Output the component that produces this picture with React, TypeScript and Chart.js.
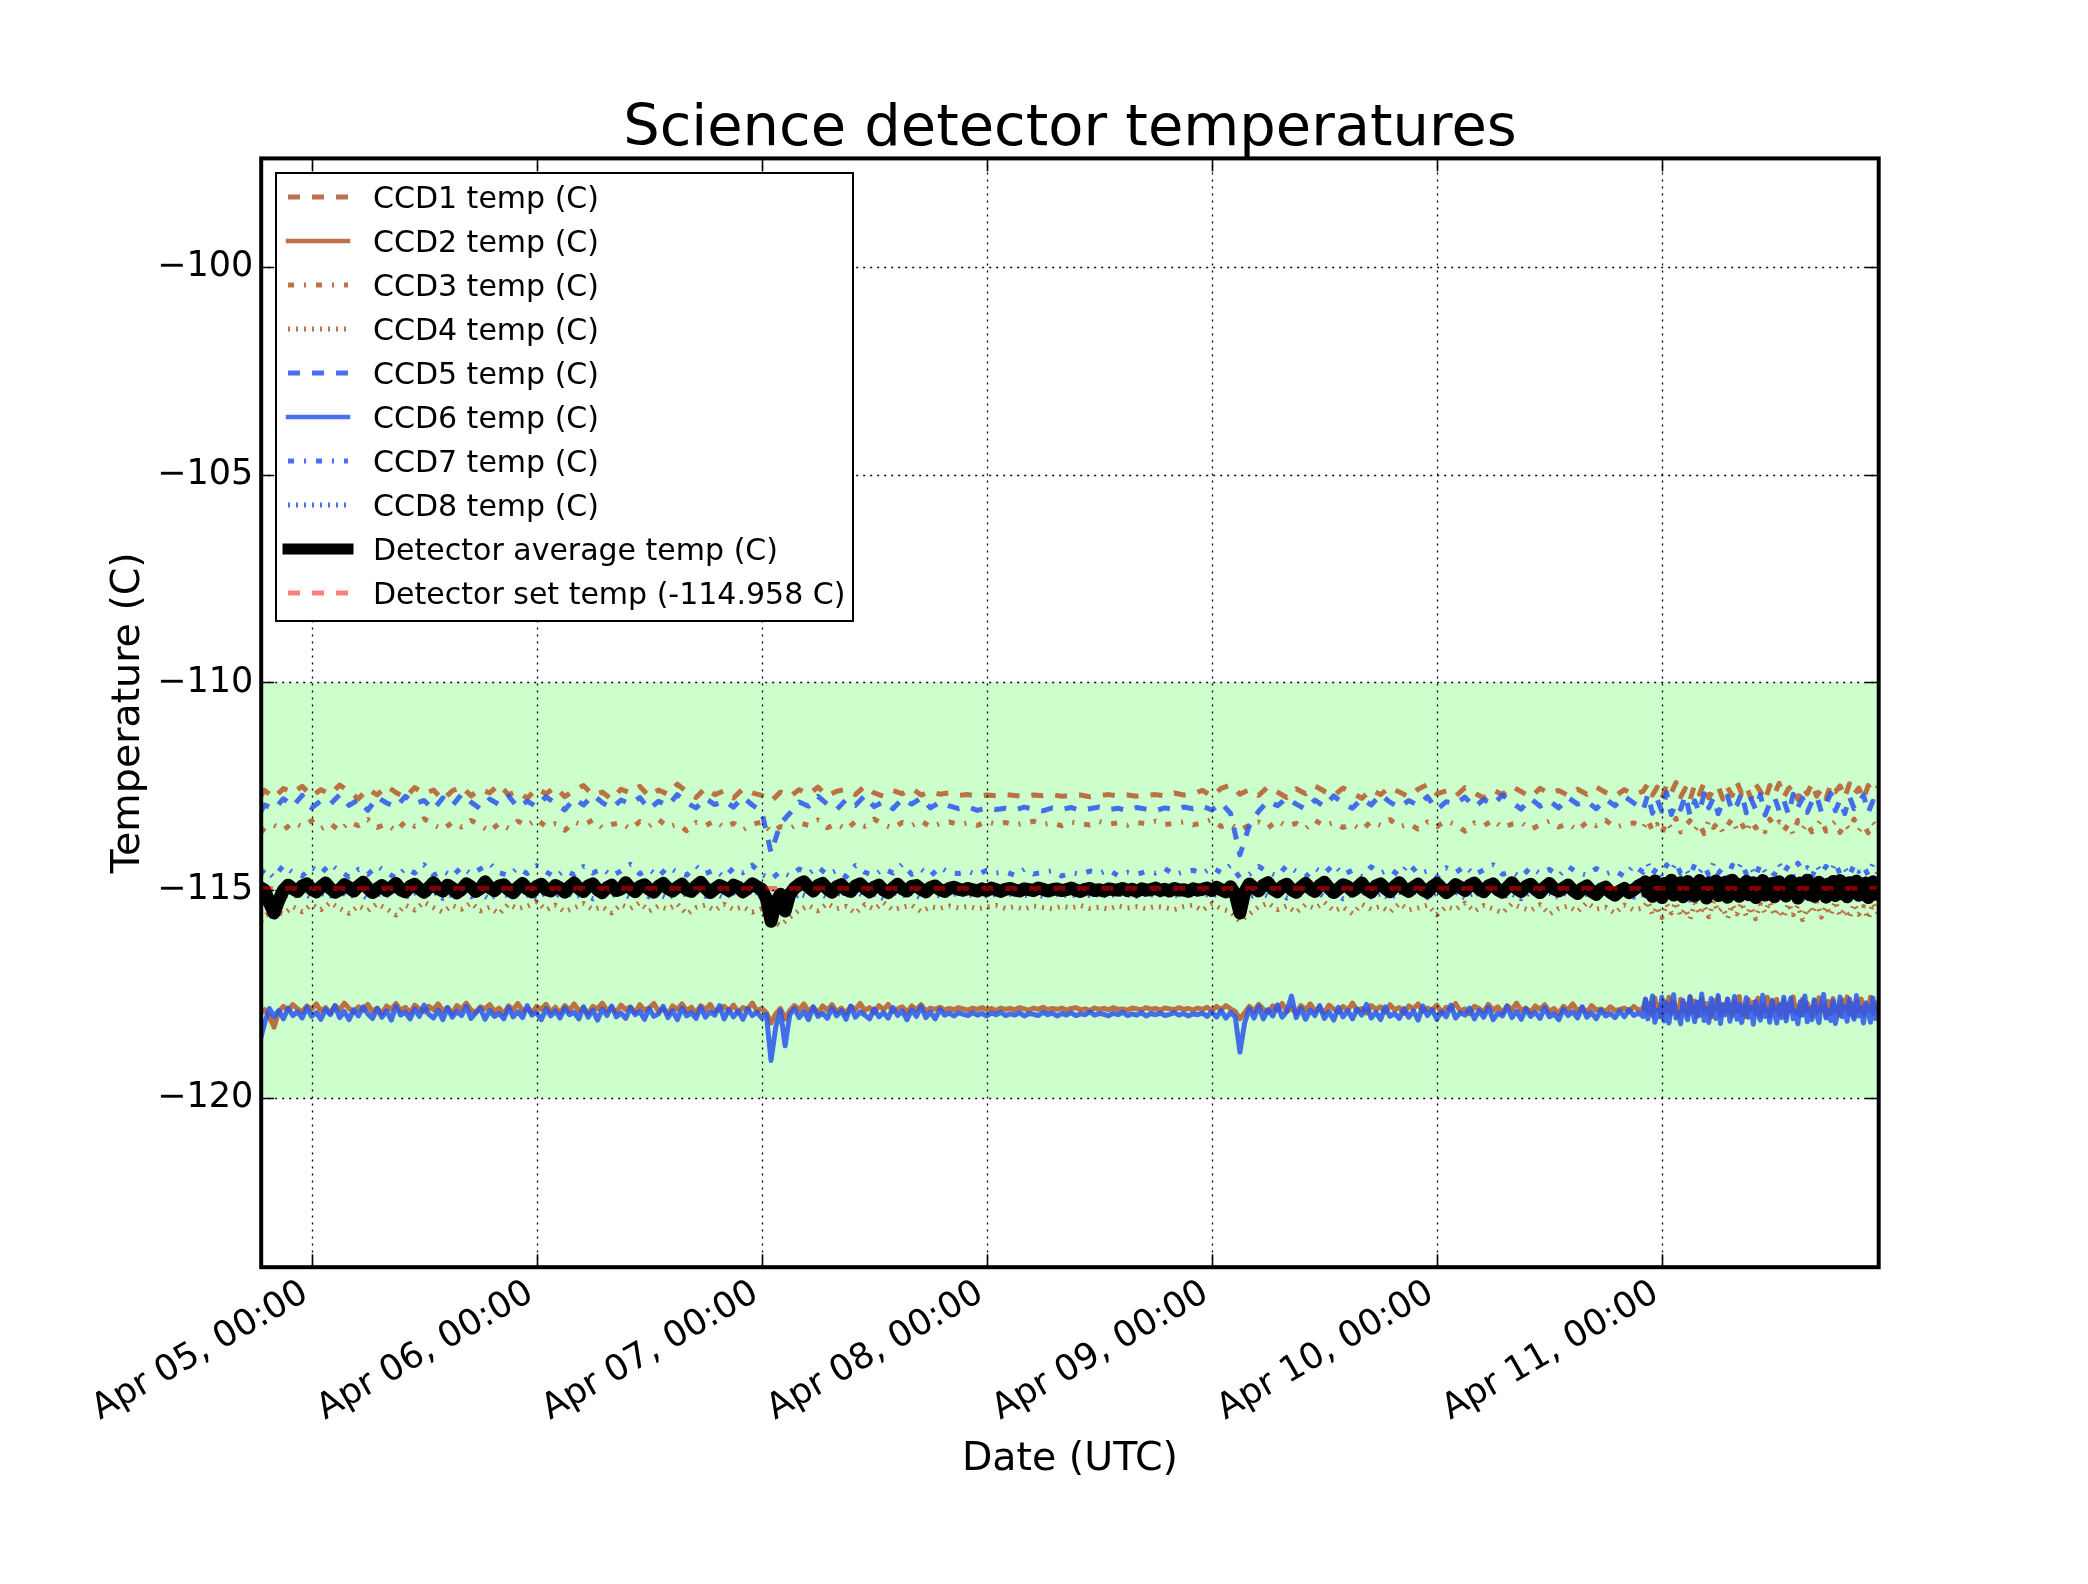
import React, { useEffect, useRef } from "react";
import { Chart, registerables } from "chart.js";

Chart.register(...registerables);

// Sample times (hours after Apr 05, 00:00 UTC) for the hourly channels
const hours = [
  -5.4, -5, -4, -3, -2, -1,
  0, 1, 2, 3, 4, 5, 6, 7, 8, 9, 10, 11, 12, 13, 14, 15, 16, 17, 18, 19, 20, 21, 22, 23,
  24, 25, 26, 27, 28, 29, 30, 31, 32, 33, 34, 35, 36, 37, 38, 39, 40, 41, 42, 43, 44, 45, 46, 47,
  48, 49, 50, 51, 52, 53, 54, 55, 56, 57, 58, 59, 60, 61, 62, 63, 64, 65, 66, 67, 68, 69, 70, 71,
  72, 73, 74, 75, 76, 77, 78, 79, 80, 81, 82, 83, 84, 85, 86, 87, 88, 89, 90, 91, 92, 93, 94, 95,
  96, 97, 98, 99, 100, 101, 102, 103, 104, 105, 106, 107, 108, 109, 110, 111, 112, 113, 114, 115, 116, 117, 118, 119,
  120, 121, 122, 123, 124, 125, 126, 127, 128, 129, 130, 131, 132, 133, 134, 135, 136, 137, 138, 139, 140, 141, 142,
  142.5, 143, 143.5, 144, 144.5, 145, 145.5, 146, 146.5, 147, 147.5, 148, 148.5, 149, 149.5, 150, 150.5, 151, 151.5, 152,
  152.5, 153, 153.5, 154, 154.5, 155, 155.5, 156, 156.5, 157, 157.5, 158, 158.5, 159, 159.5, 160, 160.5, 161, 161.5, 162,
  162.5, 163, 163.5, 164, 164.5, 165, 165.5, 166, 166.5, 167,
];

// Finer sample times for the solid channels and the detector average
const hoursFine = [
  -5.4,
  -5, -4.5, -4, -3.5, -3, -2.5, -2, -1.5, -1, -0.5,
  0, 0.5, 1, 1.5, 2, 2.5, 3, 3.5, 4, 4.5,
  5, 5.5, 6, 6.5, 7, 7.5, 8, 8.5, 9, 9.5,
  10, 10.5, 11, 11.5, 12, 12.5, 13, 13.5, 14, 14.5,
  15, 15.5, 16, 16.5, 17, 17.5, 18, 18.5, 19, 19.5,
  20, 20.5, 21, 21.5, 22, 22.5, 23, 23.5, 24, 24.5,
  25, 25.5, 26, 26.5, 27, 27.5, 28, 28.5, 29, 29.5,
  30, 30.5, 31, 31.5, 32, 32.5, 33, 33.5, 34, 34.5,
  35, 35.5, 36, 36.5, 37, 37.5, 38, 38.5, 39, 39.5,
  40, 40.5, 41, 41.5, 42, 42.5, 43, 43.5, 44, 44.5,
  45, 45.5, 46, 46.5, 47, 47.5, 48, 48.5, 49, 49.5,
  50, 50.5, 51, 51.5, 52, 52.5, 53, 53.5, 54, 54.5,
  55, 55.5, 56, 56.5, 57, 57.5, 58, 58.5, 59, 59.5,
  60, 60.5, 61, 61.5, 62, 62.5, 63, 63.5, 64, 64.5,
  65, 65.5, 66, 66.5, 67, 67.5, 68, 68.5, 69, 69.5,
  70, 70.5, 71, 71.5, 72, 72.5, 73, 73.5, 74, 74.5,
  75, 75.5, 76, 76.5, 77, 77.5, 78, 78.5, 79, 79.5,
  80, 80.5, 81, 81.5, 82, 82.5, 83, 83.5, 84, 84.5,
  85, 85.5, 86, 86.5, 87, 87.5, 88, 88.5, 89, 89.5,
  90, 90.5, 91, 91.5, 92, 92.5, 93, 93.5, 94, 94.5,
  95, 95.5, 96, 96.5, 97, 97.5, 98, 98.5, 99, 99.5,
  100, 100.5, 101, 101.5, 102, 102.5, 103, 103.5, 104, 104.5,
  105, 105.5, 106, 106.5, 107, 107.5, 108, 108.5, 109, 109.5,
  110, 110.5, 111, 111.5, 112, 112.5, 113, 113.5, 114, 114.5,
  115, 115.5, 116, 116.5, 117, 117.5, 118, 118.5, 119, 119.5,
  120, 120.5, 121, 121.5, 122, 122.5, 123, 123.5, 124, 124.5,
  125, 125.5, 126, 126.5, 127, 127.5, 128, 128.5, 129, 129.5,
  130, 130.5, 131, 131.5, 132, 132.5, 133, 133.5, 134, 134.5,
  135, 135.5, 136, 136.5, 137, 137.5, 138, 138.5, 139, 139.5,
  140, 140.5, 141, 141.5, 142,
  142.25, 142.5, 142.75, 143, 143.25, 143.5, 143.75, 144,
  144.25, 144.5, 144.75, 145, 145.25, 145.5, 145.75, 146,
  146.25, 146.5, 146.75, 147, 147.25, 147.5, 147.75, 148,
  148.25, 148.5, 148.75, 149, 149.25, 149.5, 149.75, 150,
  150.25, 150.5, 150.75, 151, 151.25, 151.5, 151.75, 152,
  152.25, 152.5, 152.75, 153, 153.25, 153.5, 153.75, 154,
  154.25, 154.5, 154.75, 155, 155.25, 155.5, 155.75, 156,
  156.25, 156.5, 156.75, 157, 157.25, 157.5, 157.75, 158,
  158.25, 158.5, 158.75, 159, 159.25, 159.5, 159.75, 160,
  160.25, 160.5, 160.75, 161, 161.25, 161.5, 161.75, 162,
  162.25, 162.5, 162.75, 163, 163.25, 163.5, 163.75, 164,
  164.25, 164.5, 164.75, 165, 165.25, 165.5, 165.75, 166,
  166.25, 166.5, 166.75, 167,
];

const xTickHours = [0, 24, 48, 72, 96, 120, 144];
const xTickLabels = [
  "Apr 05, 00:00", "Apr 06, 00:00", "Apr 07, 00:00", "Apr 08, 00:00",
  "Apr 09, 00:00", "Apr 10, 00:00", "Apr 11, 00:00",
];
const yTickValues = [-120, -115, -110, -105, -100];
const yTickLabels = ["\u2212120", "\u2212115", "\u2212110", "\u2212105", "\u2212100"];

const xMin = -5.37;
const xMax = 167.12;
const yMin = -124.08;
const yMax = -97.38;

const setTemp = -114.958;
const okBandLow = -120;
const okBandHigh = -110;

const ccd1 = [
  -112.72, -112.60, -112.78, -112.55, -112.66, -112.50, -112.74, -112.58, -112.69, -112.47,
  -112.62, -112.80, -112.56, -112.71, -112.49, -112.65, -112.77, -112.53, -112.68, -112.59,
  -112.83, -112.61, -112.50, -112.73, -112.57, -112.66, -112.46, -112.70, -112.62, -112.79,
  -112.55, -112.68, -112.52, -112.75, -112.60, -112.48, -112.71, -112.64, -112.81, -112.57,
  -112.66, -112.50, -112.74, -112.59, -112.69, -112.45, -112.63, -112.77, -112.54, -112.70,
  -112.61, -112.78, -112.56, -112.66, -112.72, -112.86, -112.64, -112.75, -112.58, -112.69,
  -112.52, -112.73, -112.62, -112.57, -112.70, -112.49, -112.66, -112.74, -112.60, -112.68,
  -112.55, -112.71, -112.63, -112.69, -112.66, -112.72, -112.70, -112.74, -112.71, -112.73,
  -112.70, -112.72, -112.75, -112.71, -112.73, -112.70, -112.74, -112.72, -112.71, -112.75,
  -112.72, -112.70, -112.73, -112.71, -112.74, -112.72, -112.70, -112.73, -112.66, -112.71,
  -112.68, -112.60, -112.74, -112.55, -112.47, -112.69, -112.58, -112.72, -112.51, -112.64,
  -112.77, -112.56, -112.68, -112.49, -112.62, -112.73, -112.54, -112.66, -112.79, -112.58,
  -112.70, -112.52, -112.64, -112.75, -112.57, -112.46, -112.68, -112.61, -112.74, -112.53,
  -112.66, -112.78, -112.59, -112.70, -112.50, -112.63, -112.76, -112.55, -112.67, -112.60,
  -112.72, -112.57, -112.69, -112.52, -112.65, -112.74, -112.58, -112.70, -112.62,
  -112.44, -112.71, -112.52, -112.80, -112.47, -112.66, -112.41, -112.75, -112.55, -112.83,
  -112.46, -112.69, -112.42, -112.78, -112.58, -112.49, -112.81, -112.53, -112.72, -112.40,
  -112.67, -112.50, -112.79, -112.45, -112.62, -112.84, -112.48, -112.70, -112.43, -112.76,
  -112.56, -112.47, -112.82, -112.51, -112.68, -112.42, -112.74, -112.57, -112.80, -112.46,
  -112.63, -112.49, -112.77, -112.44, -112.70, -112.54, -112.81, -112.48, -112.66, -112.52,
];

const ccd2 = [
  -117.95, -117.88, -118.05, -118.30, -117.92, -117.80, -117.89, -117.76, -117.86, -117.93,
  -117.79, -117.87, -117.74, -117.91, -117.83, -117.96, -117.78, -117.88, -117.72, -117.85,
  -117.94, -117.81, -117.89, -117.75, -117.92, -117.84, -117.97, -117.79, -117.87, -117.73,
  -117.90, -117.82, -117.95, -117.77, -117.86, -117.93, -117.80, -117.88, -117.74, -117.91,
  -117.83, -117.97, -117.78, -117.87, -117.72, -117.89, -117.94, -117.81, -117.86, -117.76,
  -117.92, -117.84, -117.98, -117.79, -117.88, -117.73, -117.90, -117.85, -117.95, -117.80,
  -117.87, -117.75, -117.93, -117.82, -117.96, -117.78, -117.89, -117.74, -117.91, -117.84,
  -117.97, -117.80, -117.86, -117.72, -117.90, -117.83, -117.94, -117.77, -117.88, -117.81,
  -117.95, -117.76, -117.89, -117.84, -117.73, -117.92, -117.86, -117.98, -117.79, -117.87,
  -117.74, -117.91, -117.82, -117.96, -117.78, -117.88, -117.75, -117.93, -117.85, -117.80,
  -117.90, -117.77, -117.94, -117.83, -117.87, -117.72, -117.91, -117.85, -117.95, -118.20,
  -117.98, -117.85, -118.10, -117.90, -117.78, -117.88, -117.74, -117.92, -117.82, -117.96,
  -117.79, -117.89, -117.76, -117.93, -117.84, -117.97, -117.80, -117.87, -117.73, -117.90,
  -117.83, -117.95, -117.78, -117.88, -117.75, -117.92, -117.86, -117.81, -117.94, -117.79,
  -117.88, -117.76, -117.91, -117.84, -117.87, -117.82, -117.89, -117.85, -117.88, -117.83,
  -117.86, -117.89, -117.84, -117.87, -117.83, -117.88, -117.85, -117.90, -117.84, -117.87,
  -117.85, -117.88, -117.83, -117.86, -117.89, -117.84, -117.87, -117.82, -117.88, -117.85,
  -117.87, -117.84, -117.89, -117.85, -117.83, -117.88, -117.86, -117.90, -117.84, -117.87,
  -117.85, -117.88, -117.83, -117.87, -117.86, -117.89, -117.84, -117.86, -117.88, -117.83,
  -117.87, -117.85, -117.89, -117.84, -117.86, -117.88, -117.83, -117.87, -117.85, -117.89,
  -117.84, -117.87, -117.82, -117.90, -117.80, -117.88, -117.78, -117.86, -117.92, -118.10,
  -117.95, -117.80, -117.91, -117.75, -117.87, -117.94, -117.79, -117.89, -117.73, -117.92,
  -117.84, -117.97, -117.78, -117.88, -117.74, -117.91, -117.83, -117.95, -117.77, -117.86,
  -117.93, -117.80, -117.89, -117.72, -117.90, -117.85, -117.96, -117.78, -117.87, -117.81,
  -117.94, -117.76, -117.88, -117.83, -117.97, -117.79, -117.86, -117.74, -117.92, -117.84,
  -117.89, -117.77, -117.95, -117.82, -117.87, -117.73, -117.91, -117.86, -117.98, -117.80,
  -117.85, -117.93, -117.75, -117.89, -117.81, -117.96, -117.78, -117.88, -117.72, -117.90,
  -117.84, -117.94, -117.79, -117.87, -117.76, -117.92, -117.85, -117.97, -117.80, -117.88,
  -117.74, -117.91, -117.83, -117.95, -117.78, -117.89, -117.86, -117.93, -117.81, -117.90,
  -117.87, -117.84, -117.92, -117.80, -117.89, -117.85,
  -117.65, -117.95, -117.72, -118.02, -117.60, -117.88, -117.76, -118.05, -117.68, -117.92,
  -117.58, -117.98, -117.70, -117.84, -118.03, -117.63, -117.90, -117.74, -118.00, -117.57,
  -117.93, -117.67, -118.04, -117.79, -117.61, -117.96, -117.73, -117.89, -118.06, -117.66,
  -117.85, -117.59, -118.01, -117.75, -117.94, -117.62, -117.87, -118.03, -117.69, -117.91,
  -117.56, -117.99, -117.78, -118.05, -117.64, -117.86, -117.71, -117.97, -117.60, -118.02,
  -117.77, -117.92, -117.58, -118.04, -117.70, -117.88, -117.63, -117.99, -117.81, -117.67,
  -118.06, -117.74, -117.90, -117.57, -117.96, -117.79, -118.01, -117.62, -117.93, -117.72,
  -117.86, -118.03, -117.66, -117.94, -117.59, -117.89, -117.76, -118.05, -117.68, -117.97,
  -117.61, -117.91, -117.80, -118.02, -117.65, -117.87, -117.57, -117.98, -117.73, -118.04,
  -117.69, -117.93, -117.62, -118.00, -117.78, -117.90, -117.58, -117.96, -117.71, -117.88,
];

const ccd3 = [
  -113.62, -113.50, -113.44, -113.55, -113.38, -113.47, -113.33, -113.52, -113.40, -113.57,
  -113.36, -113.45, -113.30, -113.49, -113.41, -113.58, -113.35, -113.46, -113.28, -113.43,
  -113.54, -113.37, -113.48, -113.32, -113.44, -113.59, -113.39, -113.51, -113.34, -113.45,
  -113.29, -113.47, -113.40, -113.56, -113.36, -113.44, -113.31, -113.50, -113.42, -113.38,
  -113.53, -113.35, -113.46, -113.30, -113.48, -113.41, -113.57, -113.37, -113.45, -113.33,
  -113.49, -113.39, -113.55, -113.42, -113.36, -113.60, -113.47, -113.52, -113.38, -113.44,
  -113.31, -113.50, -113.40, -113.54, -113.35, -113.46, -113.29, -113.43, -113.51, -113.37,
  -113.45, -113.33, -113.48, -113.40, -113.36, -113.42, -113.38, -113.44, -113.35, -113.41,
  -113.37, -113.43, -113.39, -113.34, -113.42, -113.38, -113.45, -113.36, -113.40, -113.43,
  -113.35, -113.41, -113.38, -113.44, -113.37, -113.40, -113.34, -113.42, -113.39, -113.36,
  -113.43, -113.38, -113.30, -113.47, -113.41, -113.55, -113.44, -113.36, -113.50, -113.33,
  -113.46, -113.39, -113.52, -113.32, -113.45, -113.37, -113.49, -113.42, -113.55, -113.35,
  -113.44, -113.30, -113.48, -113.40, -113.53, -113.36, -113.47, -113.33, -113.42, -113.58,
  -113.38, -113.45, -113.31, -113.50, -113.41, -113.37, -113.54, -113.43, -113.34, -113.48,
  -113.40, -113.56, -113.36, -113.45, -113.32, -113.49, -113.42, -113.38, -113.51,
  -113.30, -113.58, -113.42, -113.63, -113.35, -113.52, -113.27, -113.60, -113.45, -113.33,
  -113.56, -113.40, -113.64, -113.31, -113.49, -113.37, -113.61, -113.44, -113.28, -113.55,
  -113.39, -113.62, -113.34, -113.50, -113.43, -113.59, -113.29, -113.47, -113.36, -113.57,
  -113.41, -113.65, -113.32, -113.53, -113.38, -113.60, -113.46, -113.30, -113.58, -113.44,
  -113.35, -113.61, -113.40, -113.54, -113.29, -113.57, -113.43, -113.62, -113.37, -113.50,
];

const ccd4 = [
  -115.75, -115.62, -115.50, -115.58, -115.40, -115.52, -115.35, -115.47, -115.30, -115.44,
  -115.56, -115.38, -115.49, -115.33, -115.45, -115.60, -115.36, -115.48, -115.29, -115.42,
  -115.53, -115.37, -115.46, -115.31, -115.50, -115.41, -115.57, -115.34, -115.45, -115.39,
  -115.28, -115.48, -115.36, -115.52, -115.43, -115.32, -115.47, -115.40, -115.55, -115.35,
  -115.44, -115.30, -115.51, -115.38, -115.46, -115.33, -115.58, -115.42, -115.36, -115.49,
  -115.34, -115.47, -115.40, -115.53, -115.45, -115.72, -115.85, -115.66, -115.48, -115.37,
  -115.50, -115.32, -115.45, -115.39, -115.56, -115.35, -115.46, -115.30, -115.48, -115.41,
  -115.36, -115.52, -115.40, -115.44, -115.38, -115.43, -115.39, -115.45, -115.41, -115.37,
  -115.44, -115.40, -115.46, -115.38, -115.42, -115.45, -115.39, -115.43, -115.37, -115.44,
  -115.41, -115.46, -115.38, -115.43, -115.40, -115.45, -115.39, -115.42, -115.47, -115.40,
  -115.36, -115.49, -115.33, -115.45, -115.52, -115.75, -115.58, -115.40, -115.31, -115.47,
  -115.38, -115.54, -115.35, -115.44, -115.29, -115.50, -115.41, -115.57, -115.34, -115.46,
  -115.39, -115.53, -115.32, -115.48, -115.43, -115.36, -115.59, -115.40, -115.47, -115.31,
  -115.51, -115.37, -115.45, -115.55, -115.33, -115.42, -115.49, -115.35, -115.58, -115.44,
  -115.38, -115.52, -115.30, -115.46, -115.41, -115.56, -115.36, -115.48, -115.43,
  -115.27, -115.60, -115.40, -115.66, -115.33, -115.55, -115.29, -115.62, -115.45, -115.70,
  -115.31, -115.58, -115.38, -115.64, -115.26, -115.52, -115.43, -115.68, -115.35, -115.57,
  -115.30, -115.63, -115.41, -115.69, -115.34, -115.54, -115.28, -115.61, -115.47, -115.66,
  -115.32, -115.59, -115.37, -115.71, -115.44, -115.56, -115.29, -115.65, -115.39, -115.60,
  -115.27, -115.62, -115.46, -115.67, -115.33, -115.58, -115.40, -115.69, -115.31, -115.55,
];

const ccd5 = [
  -113.10, -112.95, -113.05, -112.80, -112.98, -112.72, -113.02, -112.85, -112.93, -112.70,
  -112.96, -112.82, -113.08, -112.76, -112.90, -113.00, -112.74, -112.92, -112.84, -113.06,
  -112.78, -112.97, -112.69, -112.88, -113.04, -112.81, -112.94, -112.73, -113.01, -112.86,
  -112.99, -112.75, -112.91, -113.07, -112.80, -112.95, -112.71, -112.89, -113.03, -112.83,
  -112.92, -112.77, -113.05, -112.86, -112.97, -112.70, -112.90, -113.02, -112.79, -112.94,
  -112.85, -113.00, -112.76, -112.95, -113.10, -114.10, -113.40, -113.15, -112.88, -112.98,
  -112.74, -112.93, -113.06, -112.82, -112.96, -112.72, -112.99, -112.87, -113.04, -112.80,
  -112.93, -112.78, -113.02, -112.88, -112.97, -113.04, -113.00, -113.08, -113.02, -113.06,
  -113.03, -113.07, -113.00, -113.05, -113.09, -113.02, -113.06, -113.01, -113.08, -113.04,
  -113.00, -113.06, -113.03, -113.08, -113.01, -113.05, -113.09, -113.02, -113.06, -113.00,
  -113.04, -112.98, -113.07, -112.90, -113.15, -114.15, -113.45, -113.10, -112.85, -112.97,
  -112.78, -112.93, -113.05, -112.83, -112.99, -112.73, -112.91, -113.03, -112.80, -112.95,
  -112.70, -112.88, -113.01, -112.84, -112.96, -112.75, -113.06, -112.87, -112.92, -112.76,
  -113.00, -112.82, -112.94, -112.71, -112.89, -113.05, -112.79, -112.98, -112.85, -113.02,
  -112.77, -112.93, -112.86, -113.04, -112.81, -112.97, -112.74, -112.90, -113.08,
  -112.70, -113.15, -112.82, -113.10, -112.65, -113.18, -112.90, -113.05, -112.72, -113.20,
  -112.85, -113.12, -112.68, -113.02, -112.78, -113.16, -112.88, -112.74, -113.10, -112.95,
  -112.66, -113.14, -112.80, -113.06, -112.70, -113.19, -112.92, -112.76, -113.08, -112.84,
  -113.17, -112.69, -113.00, -112.79, -113.13, -112.87, -112.73, -113.11, -112.94, -112.67,
  -113.09, -112.83, -113.16, -112.75, -113.04, -112.90, -112.71, -113.13, -112.86, -113.01,
];

const ccd6 = [
  -118.55, -118.20, -117.85, -118.05, -117.90, -118.10, -117.84, -118.02, -117.93, -118.08,
  -117.82, -118.04, -117.95, -118.11, -117.87, -118.00, -117.79, -118.07, -117.92, -118.12,
  -117.88, -118.03, -117.81, -117.98, -118.09, -117.85, -118.06, -117.91, -118.13, -117.80,
  -118.01, -117.94, -118.10, -117.86, -118.04, -117.77, -117.99, -118.08, -117.89, -118.12,
  -117.83, -118.06, -117.92, -118.02, -117.80, -118.09, -117.96, -117.85, -118.11, -117.90,
  -118.04, -117.97, -118.10, -117.82, -118.05, -117.93, -118.07, -117.78, -118.01, -117.95,
  -118.12, -117.86, -118.03, -117.91, -118.08, -117.84, -118.00, -117.94, -118.10, -117.81,
  -118.06, -117.89, -118.13, -117.87, -118.02, -117.79, -118.05, -117.96, -118.09, -117.83,
  -118.00, -117.92, -118.11, -117.85, -118.04, -117.98, -117.80, -118.07, -117.90, -118.12,
  -117.84, -118.03, -117.95, -118.09, -117.82, -118.06, -117.93, -118.01, -117.78, -118.10,
  -117.88, -118.05, -117.91, -118.11, -117.86, -118.02, -117.94, -118.08, -118.00, -119.10,
  -118.30, -117.90, -118.75, -118.00, -117.85, -118.07, -117.92, -118.12, -117.81, -118.04,
  -117.96, -118.09, -117.84, -118.03, -117.90, -118.11, -117.79, -118.06, -117.93, -118.01,
  -118.10, -117.86, -118.05, -117.95, -118.08, -117.83, -118.02, -117.91, -118.12, -117.88,
  -118.04, -117.80, -118.07, -117.94, -118.10, -117.87, -118.01, -117.96, -118.03, -117.95,
  -117.99, -118.02, -117.95, -118.01, -117.97, -118.03, -117.96, -118.00, -117.94, -118.02,
  -117.98, -118.01, -117.95, -118.03, -117.97, -117.99, -118.02, -117.94, -118.00, -117.96,
  -118.03, -117.97, -118.01, -117.95, -118.02, -117.98, -118.00, -117.93, -118.01, -117.97,
  -117.99, -118.03, -117.96, -118.00, -117.94, -118.02, -117.98, -118.01, -117.95, -118.03,
  -117.97, -118.00, -117.96, -118.02, -117.99, -117.95, -118.01, -117.97, -118.03, -117.98,
  -118.00, -117.96, -118.04, -117.93, -118.06, -117.90, -118.08, -117.95, -118.05, -118.90,
  -118.20, -117.85, -118.08, -117.80, -118.10, -117.88, -118.03, -117.76, -118.06, -117.92,
  -117.55, -118.07, -117.84, -118.11, -117.89, -118.02, -117.78, -118.09, -117.93, -118.13,
  -117.82, -118.05, -117.90, -118.10, -117.86, -118.01, -117.75, -118.08, -117.94, -118.12,
  -117.81, -118.04, -117.97, -118.09, -117.85, -118.06, -117.91, -118.13, -117.79, -118.02,
  -117.88, -118.11, -117.93, -118.05, -117.77, -118.08, -117.95, -118.01, -117.84, -118.10,
  -117.90, -118.06, -117.82, -118.12, -117.96, -118.03, -117.80, -118.07, -117.92, -118.11,
  -117.86, -118.04, -117.94, -118.09, -117.83, -118.05, -117.98, -118.12, -117.87, -118.02,
  -117.93, -118.08, -117.81, -118.06, -117.95, -118.10, -117.89, -118.03, -117.97, -118.07,
  -117.91, -118.05, -117.88, -118.02, -117.96, -118.04,
  -117.62, -118.10, -117.85, -117.55, -118.18, -117.90, -118.05, -117.58, -118.15, -117.72,
  -118.20, -117.80, -117.52, -118.08, -117.95, -118.22, -117.66, -117.98, -118.12, -117.57,
  -117.88, -118.17, -117.70, -118.02, -117.50, -118.14, -117.84, -118.19, -117.61, -117.93,
  -118.09, -117.54, -118.21, -117.77, -118.00, -117.63, -118.16, -117.86, -117.56, -118.11,
  -117.74, -118.19, -117.92, -117.59, -118.06, -117.82, -118.23, -117.68, -117.97, -118.13,
  -117.53, -118.04, -117.87, -118.18, -117.65, -117.96, -118.20, -117.76, -118.07, -117.58,
  -118.15, -117.81, -117.60, -118.10, -117.91, -118.22, -117.69, -118.01, -117.55, -118.17,
  -117.85, -118.12, -117.64, -117.99, -118.19, -117.73, -117.51, -118.08, -117.89, -118.14,
  -117.67, -118.21, -117.94, -117.57, -118.05, -117.80, -118.16, -117.62, -117.98, -118.11,
  -117.54, -118.03, -117.83, -118.20, -117.71, -117.95, -118.18, -117.60, -118.09, -117.86,
];

const ccd7 = [
  -114.62, -114.48, -114.70, -114.40, -114.58, -114.66, -114.45, -114.60, -114.37, -114.55,
  -114.68, -114.50, -114.62, -114.42, -114.57, -114.71, -114.47, -114.59, -114.39, -114.64,
  -114.53, -114.67, -114.44, -114.61, -114.49, -114.36, -114.58, -114.65, -114.46, -114.60,
  -114.41, -114.56, -114.69, -114.52, -114.63, -114.43, -114.59, -114.48, -114.66, -114.54,
  -114.38, -114.61, -114.50, -114.67, -114.45, -114.57, -114.64, -114.42, -114.60, -114.51,
  -114.69, -114.47, -114.58, -114.40, -114.62, -114.74, -114.55, -114.66, -114.49, -114.60,
  -114.44, -114.63, -114.52, -114.68, -114.41, -114.57, -114.65, -114.48, -114.59, -114.37,
  -114.62, -114.50, -114.66, -114.45, -114.58, -114.60, -114.55, -114.63, -114.52, -114.59,
  -114.56, -114.64, -114.50, -114.61, -114.57, -114.53, -114.66, -114.58, -114.62, -114.54,
  -114.60, -114.51, -114.65, -114.57, -114.62, -114.55, -114.59, -114.48, -114.63, -114.56,
  -114.52, -114.60, -114.45, -114.58, -114.40, -114.70, -114.62, -114.43, -114.57, -114.66,
  -114.41, -114.55, -114.68, -114.47, -114.60, -114.38, -114.63, -114.52, -114.67, -114.44,
  -114.59, -114.49, -114.65, -114.36, -114.61, -114.54, -114.70, -114.46, -114.58, -114.42,
  -114.64, -114.51, -114.39, -114.62, -114.56, -114.69, -114.45, -114.60, -114.50, -114.66,
  -114.43, -114.58, -114.64, -114.48, -114.61, -114.53, -114.67, -114.40, -114.57,
  -114.36, -114.62, -114.45, -114.68, -114.39, -114.55, -114.33, -114.60, -114.48, -114.66,
  -114.38, -114.57, -114.42, -114.64, -114.35, -114.59, -114.47, -114.70, -114.40, -114.53,
  -114.34, -114.61, -114.44, -114.67, -114.37, -114.56, -114.49, -114.63, -114.36, -114.58,
  -114.41, -114.65, -114.35, -114.54, -114.46, -114.69, -114.39, -114.60, -114.43, -114.57,
  -114.33, -114.62, -114.47, -114.66, -114.38, -114.55, -114.42, -114.64, -114.36, -114.59,
];

const ccd8 = [
  -115.35, -115.20, -115.28, -115.10, -115.16, -115.05, -115.19, -115.08, -115.14, -115.02,
  -115.17, -115.06, -115.21, -115.09, -115.13, -115.00, -115.18, -115.07, -115.15, -115.04,
  -115.20, -115.11, -115.03, -115.16, -115.08, -115.22, -115.05, -115.14, -115.01, -115.12,
  -115.19, -115.06, -115.15, -115.02, -115.17, -115.09, -115.21, -115.04, -115.13, -115.07,
  -115.18, -115.03, -115.16, -115.10, -115.20, -115.05, -115.12, -115.00, -115.15, -115.08,
  -115.19, -115.06, -115.14, -115.02, -115.11, -115.45, -115.20, -115.30, -115.09, -115.16,
  -115.04, -115.18, -115.07, -115.13, -115.01, -115.17, -115.10, -115.21, -115.05, -115.14,
  -115.08, -115.19, -115.03, -115.15, -115.11, -115.09, -115.13, -115.10, -115.14, -115.11,
  -115.12, -115.09, -115.13, -115.11, -115.15, -115.10, -115.12, -115.14, -115.09, -115.13,
  -115.11, -115.14, -115.10, -115.12, -115.15, -115.09, -115.13, -115.11, -115.14, -115.10,
  -115.12, -115.07, -115.16, -115.04, -115.14, -115.40, -115.18, -115.06, -115.15, -115.02,
  -115.19, -115.08, -115.13, -115.00, -115.17, -115.06, -115.21, -115.10, -115.03, -115.16,
  -115.09, -115.20, -115.05, -115.14, -115.01, -115.18, -115.07, -115.12, -115.04, -115.19,
  -115.06, -115.15, -115.02, -115.17, -115.10, -115.21, -115.05, -115.13, -115.08, -115.18,
  -115.03, -115.16, -115.09, -115.20, -115.06, -115.14, -115.01, -115.17, -115.11,
  -114.98, -115.22, -115.05, -115.25, -115.00, -115.18, -114.95, -115.20, -115.07, -115.24,
  -115.02, -115.19, -114.96, -115.23, -115.08, -115.15, -114.99, -115.21, -115.04, -115.26,
  -115.01, -115.17, -114.97, -115.22, -115.06, -115.19, -115.00, -115.24, -115.03, -115.16,
  -114.94, -115.21, -115.08, -115.25, -115.02, -115.18, -114.98, -115.23, -115.05, -115.20,
  -115.00, -115.24, -114.96, -115.19, -115.07, -115.22, -115.01, -115.17, -114.97, -115.21,
];

const detectorAvg = [
  -114.95, -115.00, -115.30, -115.55, -115.25, -115.00, -114.88, -114.97, -115.03, -114.90,
  -114.85, -114.98, -115.04, -114.92, -114.83, -114.96, -115.05, -114.99, -114.87, -114.94,
  -115.02, -114.90, -114.81, -114.95, -115.06, -114.97, -114.89, -115.01, -114.93, -114.84,
  -114.99, -115.04, -114.91, -114.86, -114.97, -115.05, -114.94, -114.82, -114.96, -115.02,
  -114.88, -114.95, -115.07, -114.98, -114.85, -114.92, -115.03, -114.96, -114.80, -114.94,
  -115.01, -114.90, -114.87, -114.99, -115.06, -114.93, -114.84, -114.97, -115.04, -114.91,
  -114.86, -114.98, -115.02, -114.89, -114.95, -115.05, -114.92, -114.83, -114.96, -115.03,
  -114.90, -114.85, -114.99, -115.06, -114.94, -114.88, -115.01, -114.97, -114.82, -114.95,
  -115.04, -114.92, -114.87, -114.98, -115.05, -114.91, -114.84, -114.96, -115.02, -114.93,
  -114.86, -114.99, -115.03, -114.90, -114.81, -114.95, -115.06, -114.97, -114.89, -114.94,
  -115.01, -114.88, -114.93, -115.04, -114.96, -114.85, -114.92, -114.98, -115.20, -115.75,
  -115.30, -115.10, -115.50, -115.10, -114.95, -114.86, -114.80, -114.93, -115.02, -114.89,
  -114.84, -114.97, -115.05, -114.92, -114.87, -114.99, -115.03, -114.90, -114.85, -114.96,
  -115.04, -114.93, -114.88, -115.00, -115.06, -114.95, -114.86, -114.97, -115.02, -114.91,
  -114.89, -114.98, -115.04, -114.94, -114.90, -114.99, -115.03, -114.96, -114.93, -114.98,
  -115.00, -114.96, -114.99, -115.02, -114.97, -115.01, -114.95, -114.99, -115.03, -114.98,
  -114.96, -115.00, -115.02, -114.97, -114.99, -115.01, -114.95, -114.98, -115.02, -114.99,
  -114.97, -115.01, -114.99, -114.95, -115.00, -115.03, -114.98, -114.96, -115.01, -114.99,
  -115.02, -114.97, -114.99, -115.00, -114.96, -115.01, -114.98, -115.03, -114.97, -115.00,
  -114.99, -114.95, -115.01, -114.98, -115.02, -114.96, -115.00, -114.99, -115.03, -114.97,
  -115.00, -114.98, -114.95, -115.01, -114.93, -114.99, -115.04, -114.92, -115.10, -115.55,
  -115.05, -114.85, -114.95, -115.02, -114.88, -114.82, -114.97, -115.04, -114.91, -114.86,
  -114.99, -115.05, -114.93, -114.84, -114.96, -115.03, -114.89, -114.81, -114.95, -115.06,
  -114.97, -114.87, -114.92, -115.02, -114.94, -114.83, -114.98, -115.05, -114.90, -114.85,
  -114.96, -115.04, -114.91, -114.82, -114.97, -115.03, -114.93, -114.86, -114.99, -115.05,
  -114.92, -114.84, -114.95, -115.06, -114.98, -114.87, -114.93, -115.01, -114.89, -114.83,
  -114.97, -115.04, -114.90, -114.85, -114.99, -115.05, -114.94, -114.82, -114.96, -115.03,
  -114.91, -114.86, -114.98, -115.06, -114.93, -114.84, -114.97, -115.02, -114.95, -114.88,
  -115.00, -115.08, -114.96, -114.90, -115.03, -115.10, -114.98, -114.93, -115.05, -115.12,
  -115.02, -114.96, -115.06, -114.99, -114.90, -114.84,
  -114.80, -115.05, -114.92, -115.15, -114.78, -115.02, -114.88, -115.18, -114.84, -115.08,
  -114.95, -114.76, -115.12, -114.90, -115.04, -114.82, -115.16, -114.93, -114.79, -115.10,
  -114.86, -115.14, -114.97, -114.77, -115.06, -114.89, -115.19, -114.83, -115.01, -114.92,
  -114.78, -115.13, -114.87, -115.07, -114.81, -115.17, -114.94, -114.76, -115.09, -114.85,
  -115.15, -114.91, -115.03, -114.79, -115.11, -114.88, -114.82, -115.18, -114.96, -115.05,
  -114.77, -115.12, -114.90, -115.00, -114.84, -115.16, -114.93, -114.80, -115.08, -114.87,
  -115.14, -114.98, -114.78, -115.06, -114.89, -115.19, -114.83, -115.02, -114.92, -114.76,
  -115.11, -114.86, -115.15, -114.95, -114.81, -115.07, -114.90, -115.17, -114.85, -115.03,
  -114.79, -115.13, -114.94, -114.77, -115.09, -114.88, -115.16, -114.82, -115.04, -114.91,
  -114.78, -115.12, -114.87, -115.06, -114.83, -115.18, -114.95, -114.80, -115.10, -114.89,
];

const setTempHours = [xMin, xMax];
const setTempValues = [setTemp, setTemp];

const FONT = "'DejaVu Sans', 'Liberation Sans', sans-serif";
const BROWN = "rgba(182, 88, 42, 0.85)";
const BLUE = "rgba(42, 85, 238, 0.85)";
const DASHED = [12, 12];
const DASHDOT = [6, 10, 2, 10];
const DOTTED = [2, 6];

type Series = {
  label: string;
  xs: number[];
  ys: number[];
  color: string;
  dash: number[];
  width: number;
  legendWidth: number;
  cap: CanvasLineCap;
};

const series: Series[] = [
  { label: "CCD1 temp (C)", xs: hours, ys: ccd1, color: BROWN, dash: DASHED, width: 5, legendWidth: 5, cap: "butt" },
  { label: "CCD2 temp (C)", xs: hoursFine, ys: ccd2, color: BROWN, dash: [], width: 5, legendWidth: 4.5, cap: "square" },
  { label: "CCD3 temp (C)", xs: hours, ys: ccd3, color: BROWN, dash: DASHDOT, width: 5, legendWidth: 5, cap: "butt" },
  { label: "CCD4 temp (C)", xs: hours, ys: ccd4, color: BROWN, dash: DOTTED, width: 5, legendWidth: 5, cap: "butt" },
  { label: "CCD5 temp (C)", xs: hours, ys: ccd5, color: BLUE, dash: DASHED, width: 5, legendWidth: 5, cap: "butt" },
  { label: "CCD6 temp (C)", xs: hoursFine, ys: ccd6, color: BLUE, dash: [], width: 5, legendWidth: 4.5, cap: "square" },
  { label: "CCD7 temp (C)", xs: hours, ys: ccd7, color: BLUE, dash: DASHDOT, width: 5, legendWidth: 5, cap: "butt" },
  { label: "CCD8 temp (C)", xs: hours, ys: ccd8, color: BLUE, dash: DOTTED, width: 5, legendWidth: 5, cap: "butt" },
  { label: "Detector average temp (C)", xs: hoursFine, ys: detectorAvg, color: "#000000", dash: [], width: 13, legendWidth: 11, cap: "square" },
  { label: "Detector set temp (-114.958 C)", xs: setTempHours, ys: setTempValues, color: "rgba(255, 0, 0, 0.5)", dash: DASHED, width: 5, legendWidth: 5, cap: "butt" },
];

const decorPlugin = {
  id: "decor",
  beforeDatasetsDraw(chart: any) {
    const { ctx, chartArea: a, scales } = chart;
    const y = scales.y;
    const yt = y.getPixelForValue(okBandHigh);
    const yb = y.getPixelForValue(okBandLow);
    ctx.save();
    ctx.fillStyle = "#ccffcc";
    ctx.fillRect(a.left, yt, a.right - a.left, yb - yt);
    ctx.restore();
  },
  afterDatasetsDraw(chart: any) {
    const { ctx, chartArea: a, scales } = chart;
    const x = scales.x;
    const y = scales.y;
    ctx.save();
    // dotted grid
    ctx.strokeStyle = "#000";
    ctx.lineWidth = 1.3;
    ctx.setLineDash([2, 5]);
    for (const v of xTickHours) {
      const px = Math.round(x.getPixelForValue(v)) + 0.5;
      ctx.beginPath();
      ctx.moveTo(px, a.top);
      ctx.lineTo(px, a.bottom);
      ctx.stroke();
    }
    for (const v of yTickValues) {
      const py = Math.round(y.getPixelForValue(v)) + 0.5;
      ctx.beginPath();
      ctx.moveTo(a.left, py);
      ctx.lineTo(a.right, py);
      ctx.stroke();
    }
    ctx.setLineDash([]);
    // inward ticks on all four sides
    ctx.lineWidth = 1.6;
    const tl = 13;
    for (const v of xTickHours) {
      const px = Math.round(x.getPixelForValue(v)) + 0.5;
      ctx.beginPath();
      ctx.moveTo(px, a.bottom);
      ctx.lineTo(px, a.bottom - tl);
      ctx.moveTo(px, a.top);
      ctx.lineTo(px, a.top + tl);
      ctx.stroke();
    }
    for (const v of yTickValues) {
      const py = Math.round(y.getPixelForValue(v)) + 0.5;
      ctx.beginPath();
      ctx.moveTo(a.left, py);
      ctx.lineTo(a.left + tl, py);
      ctx.moveTo(a.right, py);
      ctx.lineTo(a.right - tl, py);
      ctx.stroke();
    }
    // frame
    ctx.lineWidth = 4;
    ctx.strokeRect(a.left, a.top, a.right - a.left, a.bottom - a.top);

    // legend
    const lx = 276, ly = 173, lw = 577, lh = 448;
    ctx.fillStyle = "#ffffff";
    ctx.fillRect(lx, ly, lw, lh);
    ctx.lineWidth = 2;
    ctx.strokeStyle = "#000";
    ctx.strokeRect(lx, ly, lw, lh);
    ctx.font = `30px ${FONT}`;
    ctx.textAlign = "left";
    ctx.textBaseline = "alphabetic";
    series.forEach((s, i) => {
      const yy = 197 + 44 * i;
      ctx.save();
      ctx.strokeStyle = s.color;
      ctx.lineWidth = s.legendWidth;
      ctx.setLineDash(s.dash);
      ctx.lineCap = s.cap;
      ctx.beginPath();
      ctx.moveTo(288, yy);
      ctx.lineTo(348, yy);
      ctx.stroke();
      ctx.restore();
      ctx.fillStyle = "#000";
      ctx.fillText(s.label, 373, yy + 10.5);
    });

    // title and axis labels
    ctx.fillStyle = "#000";
    ctx.textAlign = "center";
    ctx.textBaseline = "alphabetic";
    ctx.font = `57.5px ${FONT}`;
    const cx = (a.left + a.right) / 2;
    ctx.fillText("Science detector temperatures", cx, 145);
    ctx.font = `39.5px ${FONT}`;
    ctx.fillText("Date (UTC)", cx, 1470);
    ctx.save();
    ctx.translate(139, (a.top + a.bottom) / 2);
    ctx.rotate(-Math.PI / 2);
    ctx.fillText("Temperature (C)", 0, 0);
    ctx.restore();
    ctx.restore();
  },
};

export default function App() {
  const canvasRef = useRef<HTMLCanvasElement | null>(null);

  useEffect(() => {
    const canvas = canvasRef.current;
    if (!canvas) return;
    const datasets = series.map((s, i) => ({
      label: s.label,
      data: s.xs.map((h, k) => ({ x: h, y: s.ys[k] })),
      borderColor: s.color,
      backgroundColor: s.color,
      borderWidth: s.width,
      borderDash: s.dash,
      borderJoinStyle: "round" as const,
      borderCapStyle: s.dash.length ? ("butt" as const) : ("round" as const),
      pointRadius: 0,
      pointHoverRadius: 0,
      tension: 0,
      fill: false,
      order: series.length - i,
    }));

    const chart = new Chart(canvas, {
      type: "line",
      data: { datasets },
      plugins: [decorPlugin],
      options: {
        animation: false,
        responsive: false,
        devicePixelRatio: 1,
        events: [],
        layout: { padding: { top: 158.4, left: 0, right: 2088 - 1878.7, bottom: 0 } },
        plugins: {
          legend: { display: false },
          title: { display: false },
          tooltip: { enabled: false },
        },
        scales: {
          x: {
            type: "linear",
            min: xMin,
            max: xMax,
            afterBuildTicks: (scale: any) => {
              scale.ticks = xTickHours.map((v) => ({ value: v }));
            },
            afterFit: (scale: any) => {
              scale.height = 1584 - 1267.2;
            },
            grid: { display: false, drawTicks: false },
            border: { display: false },
            ticks: {
              autoSkip: false,
              minRotation: 30,
              maxRotation: 30,
              padding: 5,
              labelOffset: -6,
              color: "#000",
              font: { family: FONT, size: 35.5 },
              callback: (_v: any, index: number) => xTickLabels[index],
            },
          },
          y: {
            type: "linear",
            min: yMin,
            max: yMax,
            afterBuildTicks: (scale: any) => {
              scale.ticks = yTickValues.map((v) => ({ value: v }));
            },
            afterFit: (scale: any) => {
              scale.width = 261.2;
            },
            grid: { display: false, drawTicks: false },
            border: { display: false },
            ticks: {
              padding: 8,
              color: "#000",
              font: { family: FONT, size: 35 },
              callback: (_v: any, index: number) => yTickLabels[index],
            },
          },
        },
      },
    });
    return () => chart.destroy();
  }, []);

  return (
    <div style={{ position: "absolute", left: 0, top: 0, width: 2088, height: 1584, background: "#fff" }}>
      <canvas ref={canvasRef} width={2088} height={1584} style={{ width: 2088, height: 1584, display: "block" }} />
    </div>
  );
}
